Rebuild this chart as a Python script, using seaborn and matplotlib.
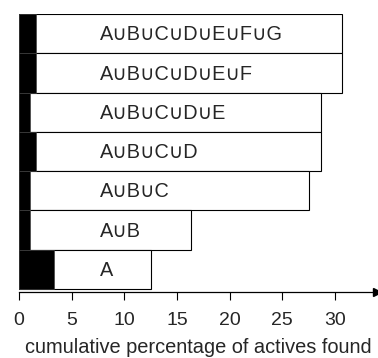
import matplotlib
matplotlib.use("Agg")
import matplotlib.pyplot as plt
import seaborn as sns
import pandas as pd

sns.set_style("white")
plt.rcParams['font.family'] = ['Liberation Sans', 'DejaVu Sans']

labels = ["A∪B∪C∪D∪E∪F∪G", "A∪B∪C∪D∪E∪F", "A∪B∪C∪D∪E", "A∪B∪C∪D",
          "A∪B∪C", "A∪B", "A"]
total = [30.7, 30.7, 28.7, 28.7, 27.5, 16.3, 12.5]
black = [1.6, 1.6, 1.0, 1.6, 1.0, 1.0, 3.3]
xticks = [0, 5, 10, 15, 20, 25, 30]

df = pd.DataFrame({"label": labels, "total": total, "black": black})

fig = plt.figure(figsize=(3.78, 3.58), dpi=100)
ax = fig.add_axes([19/378, (358-292)/358, 358/378, (292-14)/358])

sns.barplot(data=df, y="label", x="total", order=labels, orient="h",
            color="white", saturation=1, edgecolor="black", linewidth=0.8,
            width=1.0, ax=ax)
sns.barplot(data=df, y="label", x="black", order=labels, orient="h",
            color="black", saturation=1, edgecolor="#444444", linewidth=0.5,
            width=1.0, ax=ax)

for i, lab in enumerate(labels):
    ax.text(7.7, i + 0.03, lab, ha="left", va="center", fontsize=14.3)

ax.set_xlim(0, 34)
ax.set_ylim(6.58, -0.5)
ax.set_yticks([])
ax.set_ylabel("")
ax.set_xticks(xticks)
ax.set_xticklabels([str(t) for t in xticks], fontsize=14)
ax.tick_params(axis="x", direction="out", length=6, width=0.8, color="black",
               bottom=True, pad=8.5)
ax.set_xlabel("cumulative percentage of actives found", fontsize=14.4,
              labelpad=6.5)
for s in ["left", "top", "right"]:
    ax.spines[s].set_visible(False)
ax.spines["bottom"].set_color("black")
ax.spines["bottom"].set_linewidth(0.9)
ax.plot(1, 0, ">", color="black", markersize=6, transform=ax.transAxes,
        clip_on=False)

fig.savefig("out.png", dpi=100)
